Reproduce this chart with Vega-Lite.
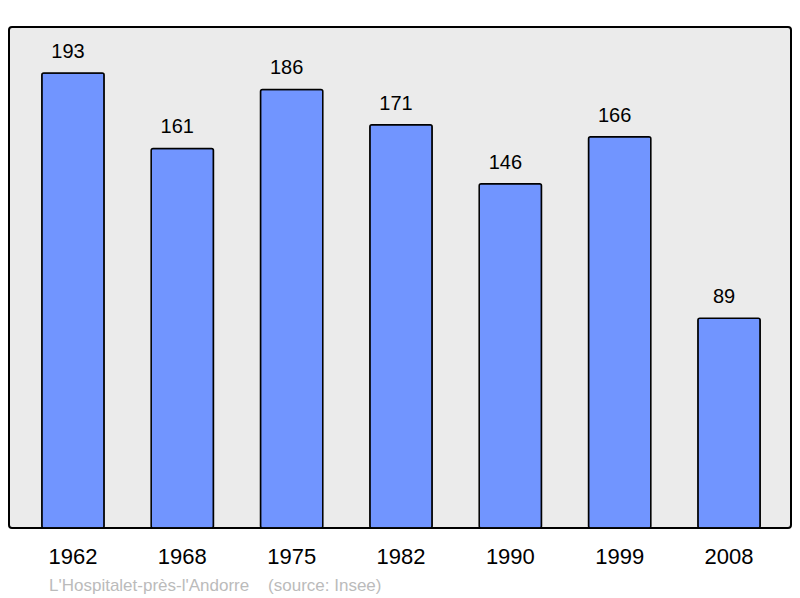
{
  "$schema": "https://vega.github.io/schema/vega-lite/v6.json",
  "autosize": "none",
  "width": 782,
  "height": 501,
  "padding": {"left": 9, "top": 27, "right": 9, "bottom": 70},
  "background": "white",
  "config": {
    "view": {"fill": "#ebebeb", "stroke": "#000000", "strokeWidth": 2, "cornerRadius": 3},
    "font": "Liberation Sans"
  },
  "title": {
    "text": "L'Hospitalet-près-l'Andorre\u00a0\u00a0\u00a0 (source: Insee)",
    "orient": "bottom",
    "anchor": "start",
    "dx": 40,
    "offset": 11,
    "fontSize": 17,
    "fontWeight": "normal",
    "color": "#bbbbbb",
    "font": "Liberation Sans"
  },
  "data": {
    "values": [
      {"year": "1962", "pop": 193},
      {"year": "1968", "pop": 161},
      {"year": "1975", "pop": 186},
      {"year": "1982", "pop": 171},
      {"year": "1990", "pop": 146},
      {"year": "1999", "pop": 166},
      {"year": "2008", "pop": 89}
    ]
  },
  "encoding": {
    "x": {
      "field": "year",
      "type": "ordinal",
      "scale": {"paddingInner": 0.43, "paddingOuter": 0.3, "range": [0, 784]},
      "axis": {
        "title": null,
        "labelAngle": 0,
        "labelFontSize": 22,
        "labelColor": "#000000",
        "labelPadding": 18,
        "ticks": false,
        "domain": false
      }
    },
    "y": {
      "field": "pop",
      "type": "quantitative",
      "scale": {"domain": [0, 212.5], "nice": false, "zero": true},
      "axis": null
    }
  },
  "layer": [
    {
      "mark": {"type": "bar", "fill": "#7195ff", "stroke": "#000000", "strokeWidth": 1.5, "cornerRadius": 2}
    },
    {
      "mark": {"type": "text", "fontSize": 20, "dx": -5, "dy": -15, "baseline": "alphabetic", "color": "#000000"},
      "encoding": {"text": {"field": "pop", "type": "quantitative"}}
    }
  ]
}
